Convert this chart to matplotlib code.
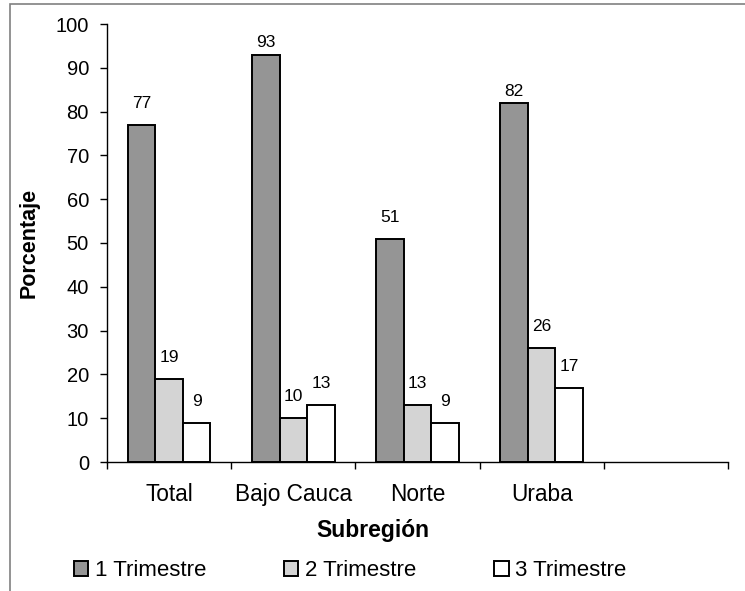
import matplotlib
matplotlib.use("Agg")
import matplotlib.pyplot as plt
from matplotlib.patches import Rectangle
import numpy as np

plt.rcParams["font.family"] = ["Liberation Sans", "DejaVu Sans"]

# Porcentaje por subregión y trimestre
subregiones = ["Total", "Bajo Cauca", "Norte", "Uraba"]
trimestre_1 = [77, 93, 51, 82]
trimestre_2 = [19, 10, 13, 26]
trimestre_3 = [9, 13, 9, 17]
series_names = ["1 Trimestre", "2 Trimestre", "3 Trimestre"]
n_slots = 5  # the category axis keeps one empty slot on the right

colors = ["#959595", "#d4d4d4", "#ffffff"]

fig = plt.figure(figsize=(7.45, 5.91), dpi=100)
ax = fig.add_axes([107 / 745, 1 - 462 / 591, 621 / 745, 438 / 591])

x = np.arange(len(subregiones))
width = 0.222
series = [trimestre_1, trimestre_2, trimestre_3]
for i, (vals, name, col) in enumerate(zip(series, series_names, colors)):
    bars = ax.bar(x + (i - 1) * width, vals, width, color=col, edgecolor="black",
                  linewidth=1.4, label=name, zorder=2)
    for b, v in zip(bars, vals):
        off = 3 if v > 80 else 10
        ax.annotate(str(v), (b.get_x() + b.get_width() / 2, v),
                    xytext=(0, off), textcoords="offset points",
                    ha="center", va="bottom", fontsize=12.5)

ax.set_xlim(-0.5, n_slots - 0.5)
ax.set_ylim(0, 100)
ax.set_yticks(range(0, 101, 10))
ax.tick_params(axis="y", length=5, width=1, labelsize=14.5, pad=8)

# category labels in the middle, ticks on the slot boundaries
ax.set_xticks(x)
ax.set_xticklabels(subregiones)
ax.set_xticks(np.arange(n_slots + 1) - 0.5, minor=True)
ax.tick_params(axis="x", which="major", length=0, labelsize=16.3, pad=15)
ax.tick_params(axis="x", which="minor", length=5, width=1)

for s in ["top", "right"]:
    ax.spines[s].set_visible(False)
for s in ["left", "bottom"]:
    ax.spines[s].set_linewidth(1)

ax.set_xlabel("Subregión", fontsize=16.5, fontweight="bold")
ax.xaxis.set_label_coords(0.428, -0.13)
ax.set_ylabel("Porcentaje", fontsize=15.5, fontweight="bold")
ax.yaxis.set_label_coords(-0.108, 0.5)

fig.legend(loc="center", bbox_to_anchor=(0.47, 1 - 571 / 591), ncol=3,
           frameon=False, fontsize=16, handlelength=0.65, handleheight=0.65,
           handletextpad=0.3, columnspacing=3.5, borderaxespad=0)

# outer chart frame
fig.patches.append(Rectangle((10 / 745, -0.1), 2, 1.1 - 4 / 591, fill=False,
                             edgecolor="#808080", linewidth=1.2,
                             transform=fig.transFigure, figure=fig))

fig.savefig("out.png", dpi=100)
